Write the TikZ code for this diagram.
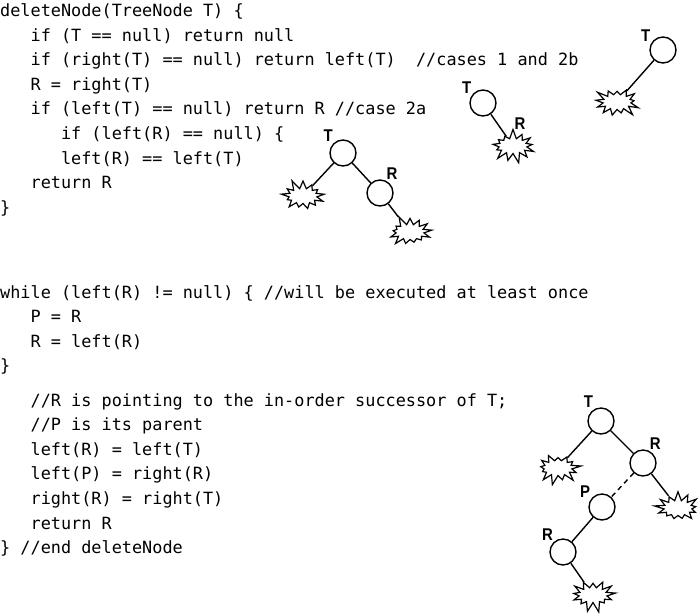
\documentclass[tikz,border=0pt]{standalone}
\usepackage{fontspec}
\usetikzlibrary{shapes.symbols}
\newfontfamily\codefont{DejaVu Sans Mono}
\newfontfamily\labelfont[FakeStretch=0.88]{Liberation Sans}
\newcommand{\codeind}{\hphantom{000}}

\begin{document}
\begin{tikzpicture}[x=1pt, y=-1pt,
        code/.style={anchor=base west, inner sep=0pt, align=left, font=\codefont\fontsize{16.85}{24.6}\selectfont},
        vert/.style={circle, draw, line width=1.4pt, minimum size=26pt, inner sep=0pt},
        splat/.style={starburst, draw, line width=1.2pt, minimum width=48pt, minimum height=35pt, starburst points=13, starburst point height=10pt, inner sep=0pt},
        lbl/.style={font=\labelfont\bfseries\fontsize{17}{17}\selectfont, inner sep=1pt},
        branch/.style={line width=1.4pt}]
        \useasboundingbox (0,0) rectangle (700,614);

        \node[code] (blockA) at (0,213.3) {deleteNode(TreeNode T) \{\\
        \codeind if (T == null) return null\\
        \codeind if (right(T) == null) return left(T)\hphantom{0} //cases 1 and 2b\\
        \codeind R = right(T)\\
        \codeind if (left(T) == null) return R //case 2a\\
        \codeind\codeind if (left(R) == null) \{\\
        \codeind\codeind left(R) == left(T)\\
        \codeind return R\\
        \}};
        \node[code] (blockB) at (0,371.8) {while (left(R) != null) \{ //will be executed at least once\\
        \codeind P = R\\
        \codeind R = left(R)\\
        \}};
        \node[code] (blockC) at (0,553.6) {\codeind //R is pointing to the in-order successor of T;\\
        \codeind //P is its parent\\
        \codeind left(R) = left(T)\\
        \codeind left(P) = right(R)\\
        \codeind right(R) = right(T)\\
        \codeind return R\\
        \} //end deleteNode};

        % cases 1 and 2b
        \node[vert, label={[lbl]148:T}] (tA) at (663,50) {};
        \node[splat, random starburst=3] (sA) at (617,102) {};
        \draw[branch] (tA) -- (sA);

        % case 2a
        \node[vert, label={[lbl]141:T}] (tB) at (483,103) {};
        \node[splat, random starburst=7] (sB) at (513,146) {};
        \node[lbl] (rB) at (520,124) {R};
        \draw[branch] (tB) -- (sB);

        % left(R) == null
        \node[vert, label={[lbl]132:T}] (tC) at (343,153) {};
        \node[vert, label={[lbl]67:R}] (rC) at (380,193) {};
        \node[splat, random starburst=11] (sC1) at (303,196) {};
        \node[splat, random starburst=5] (sC2) at (410,232) {};
        \draw[branch] (sC1) -- (tC) -- (rC) -- (sC2);

        % in-order successor
        \node[vert, label={[lbl]120:T}] (tD) at (601,421) {};
        \node[vert, label={[lbl]66:R}] (rD) at (643,463) {};
        \node[vert, label={[lbl]142:P}] (pD) at (602,507) {};
        \node[vert, label={[lbl]130:R}] (qD) at (563,552) {};
        \node[splat, random starburst=13] (sD1) at (558,468) {};
        \node[splat, random starburst=17] (sD2) at (678,508) {};
        \node[splat, random starburst=19] (sD3) at (593,595) {};
        \draw[branch] (sD1) -- (tD) -- (rD) -- (sD2);
        \draw[branch, dash pattern=on 5pt off 4pt] (rD) -- (pD);
        \draw[branch] (pD) -- (qD) -- (sD3);
\end{tikzpicture}
\end{document}
